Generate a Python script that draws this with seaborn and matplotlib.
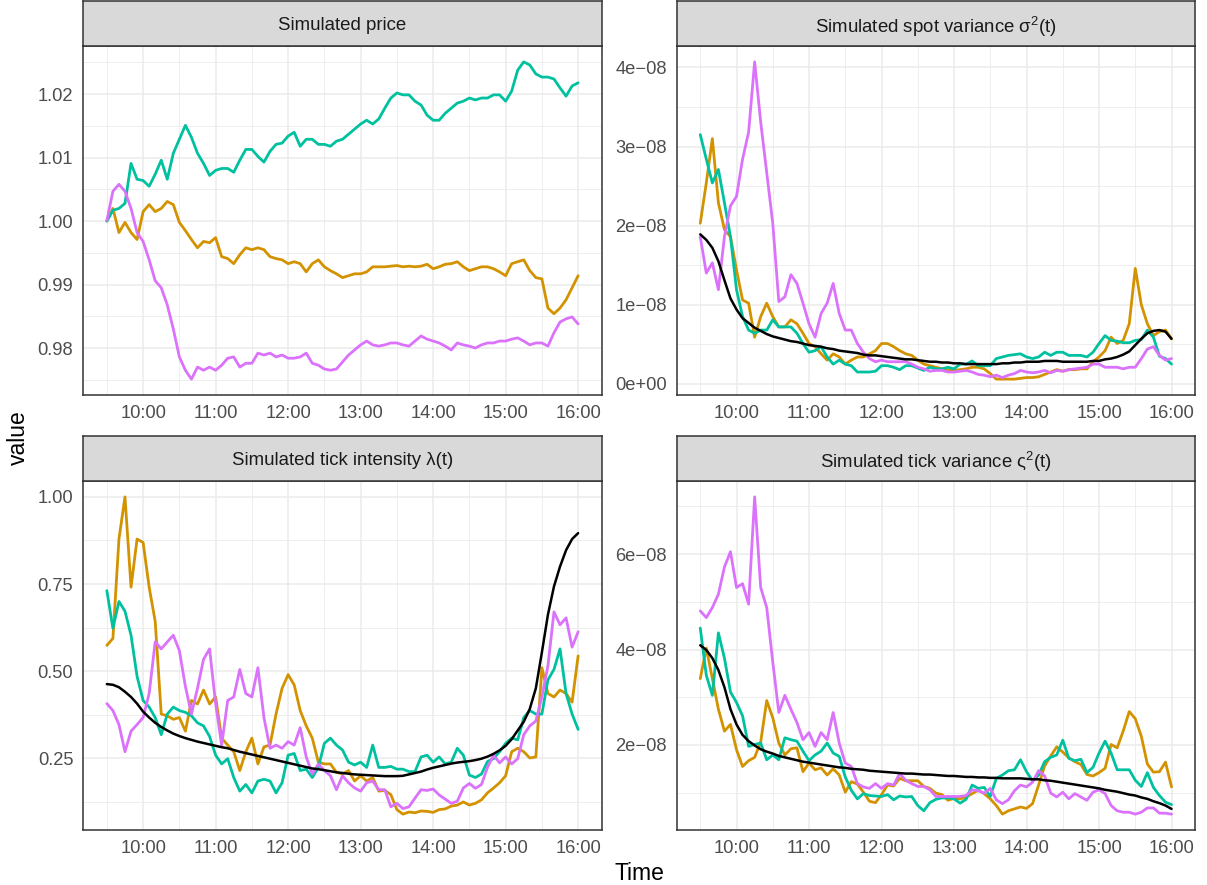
import numpy as np
import pandas as pd
import matplotlib
matplotlib.use("Agg")
import matplotlib.pyplot as plt
import matplotlib.dates as mdates
from matplotlib.ticker import MultipleLocator, FuncFormatter, FormatStrFormatter
import seaborn as sns

# Sampling grid: one observation every five minutes over the trading day
times = pd.date_range("2024-01-02 09:30", "2024-01-02 16:00", freq="5min")

# ---- Simulated price paths ----
price_orange = [
    1.0000, 1.0020, 0.9982, 0.9998, 0.9982, 0.9971, 1.0015, 1.0026, 1.0015, 1.0020,
    1.0031, 1.0026, 0.9998, 0.9985, 0.9971, 0.9958, 0.9968, 0.9966, 0.9974, 0.9944,
    0.9941, 0.9933, 0.9947, 0.9958, 0.9955, 0.9958, 0.9955, 0.9944, 0.9941, 0.9939,
    0.9933, 0.9936, 0.9933, 0.9920, 0.9933, 0.9939, 0.9928, 0.9922, 0.9917, 0.9911,
    0.9914, 0.9917, 0.9917, 0.9920, 0.9928, 0.9928, 0.9928, 0.9929, 0.9930, 0.9928,
    0.9929, 0.9928, 0.9929, 0.9932, 0.9925, 0.9928, 0.9932, 0.9933, 0.9936, 0.9928,
    0.9922, 0.9925, 0.9928, 0.9928, 0.9925, 0.9920, 0.9914, 0.9933, 0.9936, 0.9939,
    0.9922, 0.9911, 0.9909, 0.9863, 0.9854, 0.9863, 0.9876, 0.9895, 0.9914]
price_teal = [
    1.0000, 1.0017, 1.0020, 1.0028, 1.0091, 1.0066, 1.0064, 1.0055, 1.0074, 1.0096,
    1.0066, 1.0107, 1.0129, 1.0151, 1.0132, 1.0107, 1.0091, 1.0072, 1.0080, 1.0083,
    1.0083, 1.0077, 1.0096, 1.0113, 1.0113, 1.0102, 1.0093, 1.0110, 1.0121, 1.0123,
    1.0134, 1.0140, 1.0118, 1.0129, 1.0129, 1.0121, 1.0121, 1.0118, 1.0126, 1.0129,
    1.0137, 1.0145, 1.0153, 1.0159, 1.0153, 1.0161, 1.0178, 1.0194, 1.0202, 1.0199,
    1.0199, 1.0189, 1.0183, 1.0167, 1.0159, 1.0159, 1.0170, 1.0178, 1.0186, 1.0189,
    1.0194, 1.0191, 1.0194, 1.0194, 1.0199, 1.0199, 1.0189, 1.0205, 1.0238, 1.0251,
    1.0246, 1.0232, 1.0227, 1.0227, 1.0224, 1.0210, 1.0197, 1.0213, 1.0218]
price_magenta = [
    1.0001, 1.0047, 1.0058, 1.0047, 1.0020, 0.9982, 0.9968, 0.9939, 0.9906, 0.9895,
    0.9868, 0.9830, 0.9786, 0.9765, 0.9751, 0.9770, 0.9765, 0.9770, 0.9765, 0.9773,
    0.9784, 0.9786, 0.9770, 0.9776, 0.9776, 0.9792, 0.9789, 0.9792, 0.9786, 0.9789,
    0.9784, 0.9784, 0.9786, 0.9792, 0.9776, 0.9773, 0.9767, 0.9765, 0.9767, 0.9778,
    0.9789, 0.9797, 0.9805, 0.9811, 0.9805, 0.9803, 0.9805, 0.9808, 0.9808, 0.9805,
    0.9803, 0.9811, 0.9819, 0.9814, 0.9811, 0.9808, 0.9803, 0.9797, 0.9808, 0.9805,
    0.9803, 0.9800, 0.9805, 0.9808, 0.9808, 0.9811, 0.9811, 0.9814, 0.9816, 0.9811,
    0.9805, 0.9808, 0.9808, 0.9803, 0.9824, 0.9841, 0.9846, 0.9849, 0.9838]

# ---- Spot variance sigma^2(t), in units of 1e-8 ----
spot_orange = [
    2.03, 2.54, 3.10, 2.29, 1.95, 1.86, 1.44, 1.06, 1.02, 0.59,
    0.85, 1.02, 0.85, 0.72, 0.72, 0.81, 0.76, 0.64, 0.51, 0.47,
    0.38, 0.30, 0.38, 0.34, 0.25, 0.30, 0.34, 0.34, 0.38, 0.42,
    0.51, 0.51, 0.47, 0.42, 0.38, 0.36, 0.30, 0.25, 0.23, 0.21,
    0.19, 0.17, 0.17, 0.18, 0.19, 0.21, 0.21, 0.19, 0.13, 0.06,
    0.06, 0.06, 0.06, 0.07, 0.08, 0.08, 0.09, 0.12, 0.15, 0.18,
    0.16, 0.18, 0.18, 0.19, 0.19, 0.28, 0.34, 0.42, 0.59, 0.51,
    0.55, 0.76, 1.46, 1.00, 0.76, 0.61, 0.66, 0.68, 0.57]
spot_teal = [
    3.15, 2.84, 2.54, 2.71, 2.29, 1.86, 1.19, 0.85, 0.68, 0.64,
    0.68, 0.68, 0.81, 0.72, 0.72, 0.72, 0.64, 0.51, 0.40, 0.42,
    0.47, 0.34, 0.25, 0.30, 0.25, 0.23, 0.15, 0.15, 0.15, 0.16,
    0.23, 0.23, 0.21, 0.18, 0.23, 0.23, 0.20, 0.17, 0.21, 0.19,
    0.19, 0.21, 0.19, 0.25, 0.25, 0.29, 0.23, 0.23, 0.23, 0.32,
    0.34, 0.36, 0.37, 0.38, 0.34, 0.32, 0.34, 0.40, 0.36, 0.40,
    0.40, 0.36, 0.36, 0.36, 0.34, 0.40, 0.51, 0.61, 0.55, 0.54,
    0.52, 0.52, 0.55, 0.56, 0.68, 0.59, 0.35, 0.32, 0.25]
spot_magenta = [
    1.86, 1.40, 1.53, 1.19, 1.86, 2.25, 2.37, 2.84, 3.18, 4.07,
    3.31, 2.67, 2.03, 1.04, 1.10, 1.38, 1.27, 1.02, 0.76, 0.59,
    0.89, 1.02, 1.27, 0.89, 0.68, 0.68, 0.51, 0.40, 0.32, 0.28,
    0.30, 0.28, 0.28, 0.28, 0.28, 0.25, 0.21, 0.19, 0.16, 0.17,
    0.17, 0.15, 0.15, 0.16, 0.17, 0.15, 0.12, 0.11, 0.09, 0.11,
    0.08, 0.11, 0.13, 0.17, 0.15, 0.14, 0.15, 0.17, 0.14, 0.17,
    0.16, 0.18, 0.19, 0.20, 0.21, 0.25, 0.25, 0.21, 0.21, 0.21,
    0.19, 0.21, 0.21, 0.32, 0.44, 0.47, 0.36, 0.30, 0.32]
spot_true = [
    1.89, 1.82, 1.72, 1.55, 1.31, 1.08, 0.94, 0.83, 0.77, 0.71,
    0.67, 0.63, 0.60, 0.58, 0.56, 0.54, 0.53, 0.51, 0.49, 0.48,
    0.47, 0.45, 0.44, 0.42, 0.41, 0.40, 0.39, 0.37, 0.36, 0.36,
    0.35, 0.34, 0.33, 0.32, 0.31, 0.31, 0.30, 0.29, 0.28, 0.28,
    0.27, 0.27, 0.26, 0.26, 0.25, 0.25, 0.25, 0.25, 0.25, 0.25,
    0.26, 0.26, 0.27, 0.27, 0.28, 0.28, 0.28, 0.29, 0.29, 0.29,
    0.28, 0.28, 0.28, 0.28, 0.28, 0.29, 0.29, 0.31, 0.32, 0.34,
    0.37, 0.41, 0.49, 0.57, 0.64, 0.67, 0.68, 0.66, 0.57]

# ---- Tick intensity lambda(t) ----
lambda_orange = [
    0.574, 0.594, 0.879, 1.000, 0.741, 0.879, 0.869, 0.741, 0.643, 0.377,
    0.372, 0.362, 0.367, 0.328, 0.416, 0.406, 0.446, 0.406, 0.426, 0.308,
    0.288, 0.269, 0.215, 0.269, 0.308, 0.234, 0.283, 0.288, 0.377, 0.451,
    0.490, 0.461, 0.387, 0.343, 0.308, 0.239, 0.234, 0.234, 0.210, 0.205,
    0.215, 0.185, 0.200, 0.185, 0.195, 0.156, 0.158, 0.146, 0.103, 0.090,
    0.096, 0.094, 0.099, 0.098, 0.095, 0.103, 0.105, 0.113, 0.116, 0.125,
    0.116, 0.121, 0.131, 0.151, 0.165, 0.180, 0.200, 0.269, 0.279, 0.269,
    0.251, 0.254, 0.510, 0.436, 0.426, 0.446, 0.436, 0.411, 0.544]
lambda_teal = [
    0.731, 0.623, 0.700, 0.672, 0.603, 0.485, 0.416, 0.397, 0.367, 0.318,
    0.377, 0.397, 0.387, 0.382, 0.372, 0.352, 0.343, 0.313, 0.259, 0.234,
    0.249, 0.195, 0.156, 0.175, 0.151, 0.185, 0.190, 0.185, 0.151, 0.180,
    0.259, 0.264, 0.215, 0.219, 0.195, 0.224, 0.293, 0.308, 0.288, 0.274,
    0.239, 0.231, 0.239, 0.224, 0.288, 0.224, 0.224, 0.227, 0.219, 0.219,
    0.212, 0.212, 0.254, 0.259, 0.239, 0.254, 0.234, 0.239, 0.279, 0.259,
    0.202, 0.195, 0.205, 0.241, 0.249, 0.269, 0.293, 0.308, 0.303, 0.367,
    0.387, 0.377, 0.377, 0.475, 0.505, 0.564, 0.436, 0.377, 0.333]
lambda_magenta = [
    0.407, 0.387, 0.347, 0.269, 0.328, 0.347, 0.367, 0.436, 0.584, 0.564,
    0.584, 0.603, 0.559, 0.456, 0.377, 0.451, 0.534, 0.564, 0.407, 0.288,
    0.416, 0.426, 0.505, 0.436, 0.426, 0.510, 0.367, 0.279, 0.288, 0.279,
    0.298, 0.288, 0.338, 0.254, 0.205, 0.234, 0.215, 0.200, 0.160, 0.200,
    0.180, 0.165, 0.156, 0.180, 0.185, 0.160, 0.160, 0.111, 0.121, 0.106,
    0.111, 0.136, 0.160, 0.158, 0.162, 0.145, 0.133, 0.121, 0.127, 0.165,
    0.178, 0.164, 0.175, 0.224, 0.259, 0.237, 0.254, 0.234, 0.249, 0.318,
    0.343, 0.357, 0.426, 0.515, 0.670, 0.633, 0.653, 0.569, 0.613]
lambda_true = [
    0.463, 0.461, 0.454, 0.441, 0.426, 0.407, 0.384, 0.367, 0.352, 0.340,
    0.330, 0.321, 0.314, 0.308, 0.303, 0.298, 0.294, 0.290, 0.286, 0.282,
    0.279, 0.274, 0.269, 0.265, 0.261, 0.257, 0.253, 0.249, 0.245, 0.241,
    0.237, 0.233, 0.229, 0.225, 0.221, 0.219, 0.216, 0.213, 0.210, 0.208,
    0.206, 0.204, 0.203, 0.202, 0.201, 0.200, 0.199, 0.199, 0.199, 0.200,
    0.204, 0.208, 0.212, 0.218, 0.223, 0.227, 0.231, 0.235, 0.238, 0.240,
    0.242, 0.245, 0.249, 0.255, 0.263, 0.273, 0.286, 0.305, 0.330, 0.355,
    0.392, 0.451, 0.554, 0.662, 0.743, 0.800, 0.847, 0.879, 0.896]

# ---- Tick variance varsigma^2(t), in units of 1e-8 ----
tickvar_orange = [
    3.39, 4.03, 3.39, 2.75, 2.29, 2.43, 1.90, 1.55, 1.67, 1.74,
    2.06, 2.93, 2.57, 2.04, 1.79, 1.92, 1.94, 1.44, 1.62, 1.48,
    1.52, 1.37, 1.50, 1.37, 1.01, 1.23, 1.18, 1.01, 0.82, 0.79,
    0.96, 1.16, 1.14, 1.30, 1.25, 1.25, 1.25, 1.13, 1.09, 0.99,
    0.96, 0.84, 0.88, 0.87, 0.91, 0.98, 1.05, 0.98, 0.87, 0.73,
    0.55, 0.62, 0.66, 0.70, 0.67, 0.77, 1.16, 1.56, 1.77, 1.96,
    1.85, 1.73, 1.65, 1.59, 1.38, 1.35, 1.42, 1.51, 2.01, 1.94,
    2.29, 2.70, 2.55, 2.18, 1.60, 1.43, 1.44, 1.64, 1.12]
tickvar_teal = [
    4.45, 3.46, 3.04, 4.35, 3.82, 3.11, 2.89, 2.61, 1.97, 2.01,
    2.04, 1.69, 1.79, 1.69, 2.15, 2.11, 2.08, 1.87, 1.67, 1.79,
    1.87, 2.04, 1.83, 1.76, 1.33, 1.05, 0.87, 0.98, 0.94, 0.93,
    0.92, 0.96, 0.85, 0.93, 0.91, 0.92, 0.73, 0.62, 0.79, 0.86,
    0.89, 0.89, 0.87, 0.78, 0.86, 1.16, 1.09, 1.11, 0.92, 1.30,
    1.37, 1.46, 1.48, 1.69, 1.44, 1.25, 1.37, 1.65, 1.74, 1.79,
    2.10, 1.72, 1.67, 1.70, 1.42, 1.53, 1.83, 2.08, 1.83, 1.48,
    1.48, 1.48, 1.26, 1.13, 1.42, 1.11, 0.94, 0.80, 0.75]
tickvar_magenta = [
    4.81, 4.67, 4.88, 5.16, 5.73, 6.05, 5.30, 5.38, 4.95, 7.20,
    5.30, 4.88, 3.74, 2.68, 3.04, 2.75, 2.47, 2.11, 2.26, 1.97,
    2.26, 2.11, 2.68, 2.04, 1.62, 1.55, 1.19, 1.12, 1.09, 1.19,
    1.09, 1.19, 1.16, 1.40, 1.26, 1.19, 1.13, 1.13, 1.06, 0.92,
    0.92, 0.92, 0.92, 0.92, 0.94, 1.06, 1.04, 0.99, 1.09, 0.85,
    0.77, 0.85, 1.04, 1.16, 1.12, 1.22, 1.46, 1.35, 0.99, 0.91,
    1.01, 0.87, 0.98, 0.91, 0.84, 1.01, 1.06, 0.98, 0.73, 0.62,
    0.59, 0.59, 0.55, 0.59, 0.68, 0.68, 0.57, 0.57, 0.55]
tickvar_true = [
    4.09, 3.99, 3.82, 3.57, 3.21, 2.75, 2.43, 2.21, 2.08, 1.99,
    1.91, 1.86, 1.82, 1.77, 1.74, 1.71, 1.68, 1.65, 1.63, 1.61,
    1.59, 1.57, 1.55, 1.53, 1.52, 1.50, 1.49, 1.48, 1.46, 1.45,
    1.44, 1.43, 1.42, 1.41, 1.40, 1.40, 1.39, 1.38, 1.38, 1.37,
    1.36, 1.35, 1.35, 1.34, 1.33, 1.33, 1.32, 1.32, 1.31, 1.31,
    1.30, 1.30, 1.30, 1.30, 1.29, 1.28, 1.28, 1.26, 1.25, 1.23,
    1.21, 1.19, 1.17, 1.15, 1.13, 1.11, 1.09, 1.06, 1.04, 1.02,
    0.99, 0.96, 0.94, 0.90, 0.87, 0.82, 0.78, 0.73, 0.66]

PATH_COLOURS = {"path 1": "#D39200", "path 2": "#00C19F", "path 3": "#DB72FB"}

sns.set_style("white")
plt.rcParams["font.family"] = ["Liberation Sans", "DejaVu Sans"]
plt.rcParams["mathtext.fontset"] = "custom"
plt.rcParams["mathtext.rm"] = "Liberation Sans"
plt.rcParams["mathtext.it"] = "Liberation Sans:italic"
plt.rcParams["axes.unicode_minus"] = True


def path_frame(paths, scale):
    n = len(times)
    return pd.DataFrame({
        "Time": np.tile(times, len(paths)),
        "value": np.concatenate([np.asarray(p, float) * scale for p in paths]),
        "path": np.repeat(list(PATH_COLOURS), n),
    })


def sci_label(v, _pos):
    if abs(v) < 1e-14:
        return "0e+00"
    return f"{v:.0e}".replace("-", "\u2212")


panels = [
    dict(title="Simulated price", paths=(price_orange, price_teal, price_magenta),
         true=None, scale=1.0, major=0.01, minor=0.005, fmt=FormatStrFormatter("%.2f")),
    dict(title=r"Simulated spot variance $\mathregular{\sigma^2(t)}$",
         paths=(spot_orange, spot_teal, spot_magenta), true=spot_true, scale=1e-8,
         major=1e-8, minor=0.5e-8, fmt=FuncFormatter(sci_label)),
    dict(title="Simulated tick intensity λ(t)",
         paths=(lambda_orange, lambda_teal, lambda_magenta), true=lambda_true, scale=1.0,
         major=0.25, minor=0.125, fmt=FormatStrFormatter("%.2f")),
    dict(title=r"Simulated tick variance $\mathregular{\varsigma^2(t)}$",
         paths=(tickvar_orange, tickvar_teal, tickvar_magenta), true=tickvar_true,
         scale=1e-8, major=2e-8, minor=1e-8, fmt=FuncFormatter(sci_label)),
]

W, H = 1207, 885
fig = plt.figure(figsize=(W / 100, H / 100), dpi=100)

col_left = [83.3, 676.7]
panel_w = 518.4
row_top = [46, 481]       # top edge of each panel row (pixels from top)
panel_h = 349
strip_h = 45

border = "#333333"
grid_col = "#EBEBEB"

for i, spec in enumerate(panels):
    r, c = divmod(i, 2)
    x0 = col_left[c] / W
    y0 = 1 - (row_top[r] + panel_h) / H
    ax = fig.add_axes([x0, y0, panel_w / W, panel_h / H])

    df = path_frame(spec["paths"], spec["scale"])
    sns.lineplot(data=df, x="Time", y="value", hue="path", palette=PATH_COLOURS,
                 estimator=None, sort=False, legend=False, linewidth=2.0, ax=ax)
    if spec["true"] is not None:
        tdf = pd.DataFrame({"Time": times,
                            "value": np.asarray(spec["true"], float) * spec["scale"]})
        sns.lineplot(data=tdf, x="Time", y="value", color="black",
                     linewidth=1.8, estimator=None, sort=False, ax=ax)

    ax.margins(x=0.05, y=0.05)
    ax.set_xlabel("")
    ax.set_ylabel("")
    ax.set_facecolor("white")
    ax.set_axisbelow(True)

    ax.xaxis.set_major_locator(mdates.HourLocator(byhour=range(10, 17)))
    ax.xaxis.set_minor_locator(mdates.MinuteLocator(byminute=[30]))
    ax.xaxis.set_major_formatter(mdates.DateFormatter("%H:%M"))
    ax.yaxis.set_major_locator(MultipleLocator(spec["major"]))
    ax.yaxis.set_minor_locator(MultipleLocator(spec["minor"]))
    ax.yaxis.set_major_formatter(spec["fmt"])

    ax.grid(which="major", color=grid_col, linewidth=1.1)
    ax.grid(which="minor", color=grid_col, linewidth=0.6)
    ax.tick_params(which="major", length=4.2, width=1.1, color=border,
                   labelcolor="#4D4D4D", labelsize=13.2, pad=3.0)
    ax.tick_params(which="minor", length=0)
    for sp in ax.spines.values():
        sp.set_color(border)
        sp.set_linewidth(1.1)
        sp.set_visible(True)

    # facet strip above the panel
    sax = fig.add_axes([x0, 1 - row_top[r] / H, panel_w / W, strip_h / H])
    sax.set_facecolor("#D9D9D9")
    sax.set_xticks([])
    sax.set_yticks([])
    for sp in sax.spines.values():
        sp.set_color(border)
        sp.set_linewidth(1.1)
    sax.text(0.5, 0.5, spec["title"], ha="center", va="center_baseline",
             fontsize=13.4, color="#1A1A1A", transform=sax.transAxes)

fig.text(18 / W, 1 - 438 / H, "value", rotation=90, ha="center", va="center",
         fontsize=16.5, color="black")
fig.text(639 / W, 1 - 873 / H, "Time", ha="center", va="center",
         fontsize=16.5, color="black")

fig.savefig("out.png", dpi=100)
